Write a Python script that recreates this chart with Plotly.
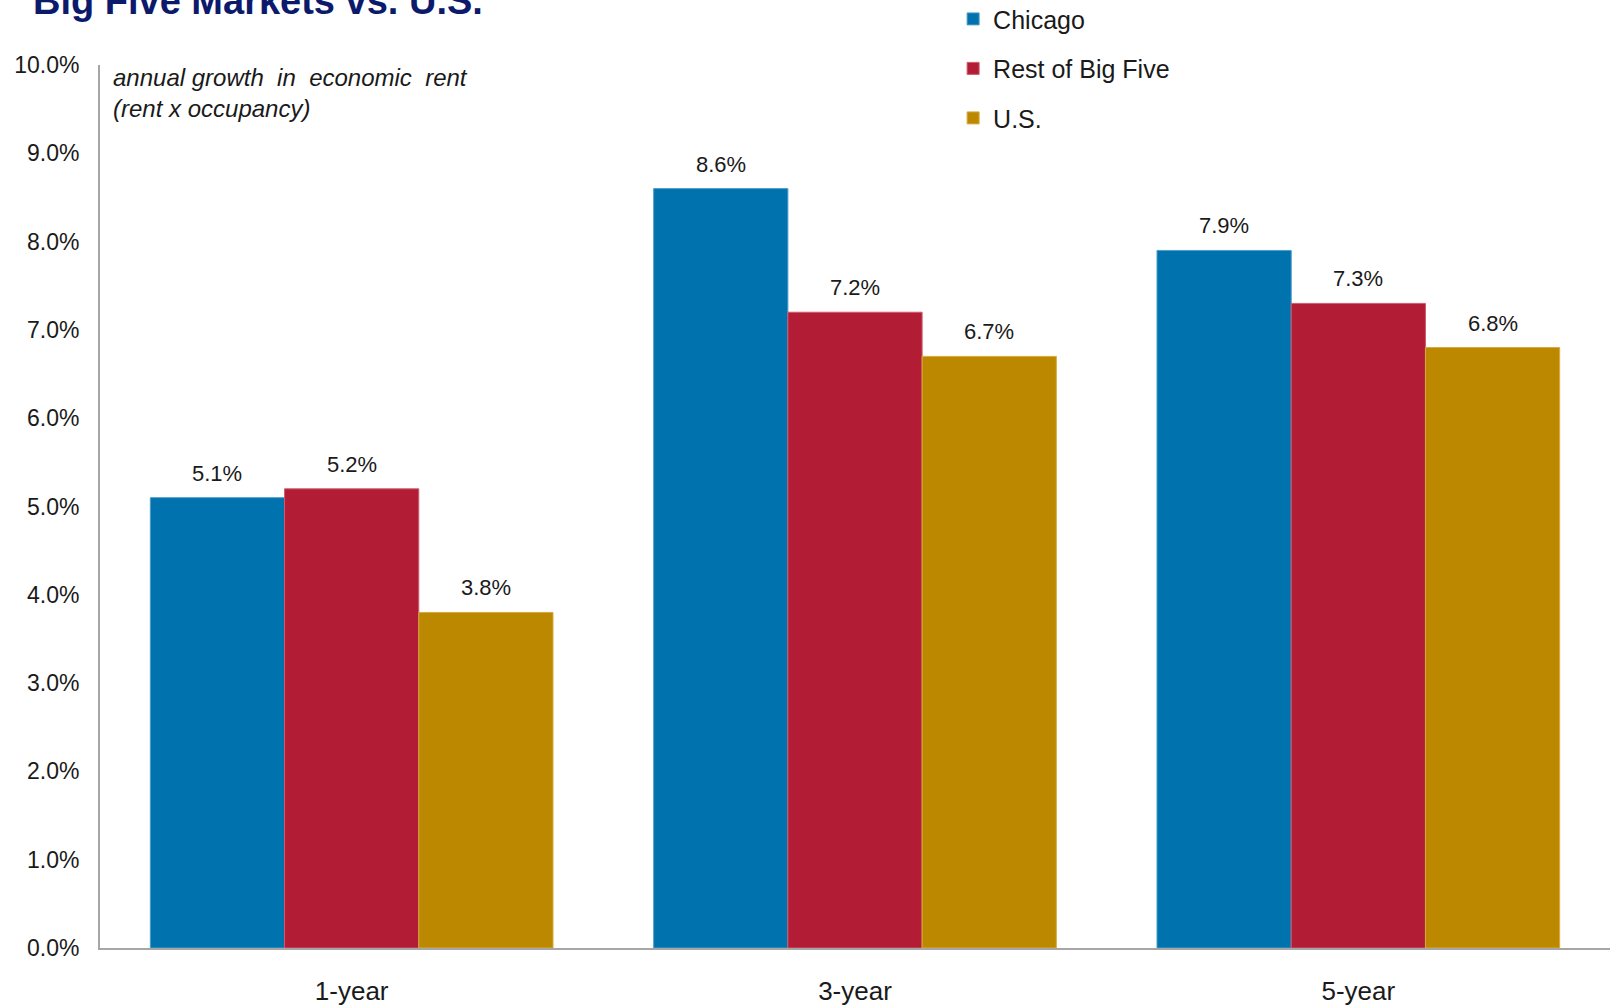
import plotly.graph_objects as go

categories = ["1-year", "3-year", "5-year"]
series_names = ["Chicago", "Rest of Big Five", "U.S."]
chicago = [0.051, 0.086, 0.079]
rest_big_five = [0.052, 0.072, 0.073]
us = [0.038, 0.067, 0.068]
colors = ["#0072ae", "#b31c35", "#bc8800"]
edge_colors = ["#4d9cc8", "#cf5a6c", "#d6aa3f"]

series_values = [chicago, rest_big_five, us]
FONT = "Liberation Sans"
BARGAP = 0.2

fig = go.Figure()
for j, (name, vals) in enumerate(zip(series_names, series_values)):
    fig.add_trace(go.Bar(
        x=categories, y=vals, name=name, legendgroup=name,
        marker=dict(color=colors[j], line=dict(color=edge_colors[j], width=1)),
        hoverinfo="skip",
    ))

# value labels above bars
n = len(series_values)
w = (1 - BARGAP) / n
for j, vals in enumerate(series_values):
    for i, v in enumerate(vals):
        fig.add_annotation(
            x=i + (j - (n - 1) / 2) * w, y=v, xref="x", yref="y",
            text=f"{v*100:.1f}%", showarrow=False, yanchor="bottom",
            yshift=10, font=dict(family=FONT, size=22, color="#1a1a1a"),
        )

fig.add_annotation(
    text="<i>annual growth  in  economic  rent<br>(rent x occupancy)</i>",
    xref="paper", yref="paper", x=0.007, y=1.003, xanchor="left", yanchor="top",
    align="left", showarrow=False, font=dict(family=FONT, size=24, color="#1a1a1a"),
)

fig.update_layout(
    width=1610, height=1006,
    margin=dict(l=100, r=0, t=65, b=58, autoexpand=False),
    paper_bgcolor="white", plot_bgcolor="white",
    barmode="group", bargap=BARGAP, bargroupgap=0,
    title=dict(text="<b>Big Five Markets vs. U.S.</b>", xref="container", yref="container",
               x=33 / 1610, xanchor="left", y=0.999, yanchor="middle",
               font=dict(family=FONT, size=38, color="#0c1a6c")),
    legend=dict(xref="container", yref="paper", x=0.592, y=1.078, xanchor="left", yanchor="top",
                font=dict(family=FONT, size=25, color="#1a1a1a"), tracegroupgap=14,
                bgcolor="rgba(0,0,0,0)", traceorder="grouped"),
    showlegend=True,
)
fig.update_yaxes(range=[0, 0.1], dtick=0.01, tickformat=".1%", showgrid=False, zeroline=False,
                 showline=True, linecolor="#a6a6a6", linewidth=2, ticks="",
                 ticklabelstandoff=14, tickfont=dict(family=FONT, size=23, color="#1a1a1a"))
fig.update_xaxes(showline=True, linecolor="#a6a6a6", linewidth=2, ticks="",
                 ticklabelstandoff=19, tickfont=dict(family=FONT, size=26, color="#1a1a1a"))

fig.write_html("out.html")
